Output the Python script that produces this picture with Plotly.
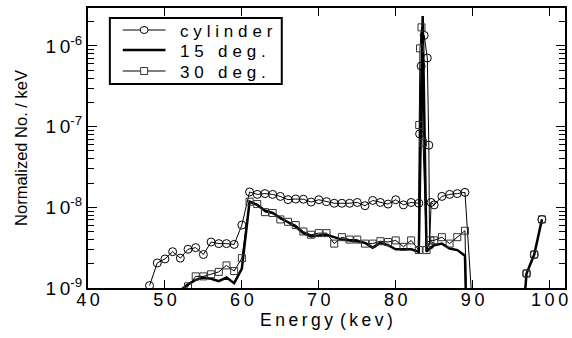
import plotly.graph_objects as go

SP = "\u2009"
SP2 = "\u2009\u200a"

def spaced(s, sep=SP):
    return sep.join(list(s))

# ---------------- data (log10 of Normalized No./keV) ----------------
cyl_x = [48, 49, 50, 51, 52, 53, 54, 55, 56, 57, 58, 59, 60, 61, 62, 63, 64, 65, 66, 67, 68,
         69, 70, 71, 72, 73, 74, 75, 76, 77, 78, 79, 80, 81, 82, 83,
         83.1, 83.3, 83.7, 84.1, 84.3, 84.4, 84.6, 85, 86, 87, 88, 89,
         90, 91, 96, 97, 98, 99]
cyl_log = [-8.97, -8.69, -8.64, -8.55, -8.63, -8.52, -8.50, -8.585, -8.43, -8.45, -8.45, -8.46,
           -8.22, -7.81, -7.84, -7.83, -7.84, -7.865, -7.905, -7.897, -7.90,
           -7.935, -7.906, -7.93, -7.95, -7.95, -7.95, -7.94, -7.98, -7.915, -7.94, -7.96,
           -7.906, -7.97, -7.94, -7.95,
           -7.09, -6.25, -5.87, -6.15, -7.23, -8.47, -7.94, -7.97, -7.865, -7.84, -7.83, -7.815,
           -9.3, -12.0, -10.02, -8.82, -8.585, -8.15]

d15_x = [51, 52, 53, 54, 55, 56, 57, 58, 59, 60, 61, 62, 63, 64, 65, 66, 67, 68, 69, 70,
         71, 72, 73, 74, 75, 76, 77, 78, 79, 80, 81, 82, 83, 83.5, 84, 84.5, 85, 86, 87, 88, 89,
         90, 96, 97, 98, 99]
d15_log = [-9.3, -9.03, -8.955, -8.90, -8.87, -8.885, -8.915, -8.87, -8.94, -8.76, -7.93, -7.97,
           -8.04, -8.07, -8.13, -8.18, -8.24, -8.32, -8.36, -8.35,
           -8.34, -8.37, -8.40, -8.41, -8.42, -8.44, -8.50, -8.44, -8.47, -8.52, -8.52, -8.52,
           -8.55, -5.63, -8.55, -8.50, -8.47, -8.45, -8.51, -8.53, -8.60,
           -13.0, -10.02, -8.82, -8.585, -8.15]

d30_x = [52, 53, 54, 55, 56, 57, 58, 59, 60, 61, 62, 63, 64, 65, 66, 67, 68, 69, 70, 71, 72,
         73, 74, 75, 76, 77, 78, 79, 80, 81, 82, 83, 83.05, 83.15, 83.35, 83.55, 84, 84.5,
         85, 86, 87, 88, 89, 90, 96, 97, 98, 99]
d30_log = [-9.1, -8.98, -8.856, -8.856, -8.83, -8.80, -8.72, -8.79, -8.63, -7.93, -7.96, -8.06,
           -8.07, -8.15, -8.18, -8.22, -8.30, -8.34, -8.32, -8.32, -8.45,
           -8.37, -8.40, -8.40, -8.45, -8.45, -8.42, -8.43, -8.41, -8.49, -8.41, -8.53,
           -6.98, -6.03, -5.77, -7.20, -8.53, -8.41,
           -8.41, -8.37, -8.45, -8.37, -8.29, -13.0, -10.02, -8.82, -8.585, -8.15]

series_names = ["cylinder", "15 deg.", "30 deg."]
x_ticks = [40, 50, 60, 70, 80, 90, 100]
y_ticks = [1e-9, 1e-8, 1e-7, 1e-6]
y_tick_text = ["1" + SP + "0<sup>-9</sup>", "1" + SP + "0<sup>-8</sup>",
               "1" + SP + "0<sup>-7</sup>", "1" + SP + "0<sup>-6</sup>"]

FONT = "Liberation Sans, Arial, sans-serif"
Y_RANGE = [-9, -5.53]

# plot-area geometry (pixels) used only to place the hand-drawn legend box
W, H = 572, 338
ML, MR, MT, MB = 88, 4, 8, 50
PW, PH = W - ML - MR, H - MT - MB

def px(xp):
    return (xp - ML) / PW

def py(yp):
    return (H - MB - yp) / PH

fig = go.Figure()
fig.add_trace(go.Scatter(
    x=cyl_x, y=[10 ** v for v in cyl_log], name=series_names[0],
    mode="lines+markers",
    line=dict(color="black", width=1),
    marker=dict(symbol="circle-open", size=8, color="black", line=dict(width=1, color="black")),
))
fig.add_trace(go.Scatter(
    x=d15_x, y=[10 ** v for v in d15_log], name=series_names[1],
    mode="lines",
    line=dict(color="black", width=2.5),
))
fig.add_trace(go.Scatter(
    x=d30_x, y=[10 ** v for v in d30_log], name=series_names[2],
    mode="lines+markers",
    line=dict(color="black", width=1),
    marker=dict(symbol="square-open", size=7, color="#333", line=dict(width=1, color="#333")),
))
# empty trace that only carries the minor-tick axis
fig.add_trace(go.Scatter(x=[None], y=[None], yaxis="y2", showlegend=False, hoverinfo="skip"))

# ---------------- legend (drawn by hand) ----------------
shapes = [dict(type="rect", xref="paper", yref="paper",
               x0=px(110), x1=px(283), y0=py(84), y1=py(18),
               line=dict(color="black", width=2), fillcolor="white", layer="above")]
annotations = []
rows = [30, 50, 71]
widths = [1, 2.5, 1]
for i, (name, ry) in enumerate(zip(series_names, rows)):
    shapes.append(dict(type="line", xref="paper", yref="paper",
                       x0=px(123), x1=px(166), y0=py(ry), y1=py(ry),
                       line=dict(color="black", width=widths[i]), layer="above"))
    annotations.append(dict(xref="paper", yref="paper", x=px(179), y=py(ry + 1),
                            xanchor="left", yanchor="middle", showarrow=False,
                            text=spaced(name, SP2), font=dict(size=17, family=FONT, color="black")))
shapes.append(dict(type="circle", xref="paper", yref="paper",
                   x0=px(140.5), x1=px(148.5), y0=py(rows[0] + 3.5), y1=py(rows[0] - 3.5),
                   line=dict(color="black", width=1), fillcolor="white", layer="above"))
shapes.append(dict(type="rect", xref="paper", yref="paper",
                   x0=px(141), x1=px(148), y0=py(rows[2] + 3.5), y1=py(rows[2] - 3.5),
                   line=dict(color="#333", width=1), fillcolor="white", layer="above"))

minor_vals = [d * m for d in y_ticks for m in range(2, 10)]

fig.update_layout(
    width=W, height=H,
    margin=dict(l=ML, r=MR, t=MT, b=MB),
    paper_bgcolor="white", plot_bgcolor="white",
    font=dict(family=FONT, size=17, color="black"),
    showlegend=False,
    shapes=shapes, annotations=annotations,
    xaxis=dict(
        range=[40, 102], tickvals=x_ticks, ticktext=[spaced(str(t)) for t in x_ticks],
        ticks="inside", ticklen=8, tickwidth=1.2, tickcolor="black",
        showline=True, linecolor="black", linewidth=2, mirror="ticks",
        showgrid=False, zeroline=False,
        ticklabelstandoff=-6,
        title=dict(text=spaced("Energy") + SP + SP + spaced("(kev)"), font=dict(size=17.5), standoff=0),
        tickfont=dict(size=18),
    ),
    yaxis=dict(
        type="log", range=Y_RANGE,
        tickvals=y_ticks, ticktext=y_tick_text,
        ticks="inside", ticklen=9, tickwidth=1.2, tickcolor="black",
        showline=True, linecolor="black", linewidth=2, mirror="ticks",
        showgrid=False, zeroline=False,
        title=dict(text="Normalized No. / keV", font=dict(size=16.5), standoff=14),
        tickfont=dict(size=19),
    ),
    yaxis2=dict(
        type="log", range=Y_RANGE, overlaying="y", side="left", anchor="x",
        tickvals=minor_vals, ticks="inside", ticklen=6, tickwidth=1, tickcolor="black",
        showticklabels=False, showline=True, linecolor="black", linewidth=2, mirror="ticks",
        showgrid=False, zeroline=False,
    ),
)

fig.write_html("out.html")
